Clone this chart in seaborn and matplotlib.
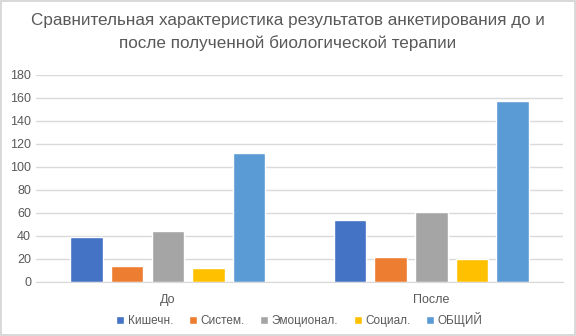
import pandas as pd
import matplotlib.pyplot as plt
import seaborn as sns

# данные анкетирования
groups = ['До', 'После']
series = ['Кишечн.', 'Систем.', 'Эмоционал.', 'Социал.', 'ОБЩИЙ']
before = [39, 14, 44, 12, 112]
after = [54, 22, 61, 20, 157]
colors = ['#4472C4', '#ED7D31', '#A5A5A5', '#FFC000', '#5B9BD5']

df = pd.DataFrame({
    'group': [groups[0]] * len(series) + [groups[1]] * len(series),
    'series': series + series,
    'value': before + after,
})

sns.set_style('white')
plt.rcParams['font.family'] = ['Liberation Sans', 'DejaVu Sans']

fig = plt.figure(figsize=(5.76, 3.36), dpi=100)
fig.patch.set_edgecolor('#D9D9D9')
fig.patch.set_linewidth(1.5)
ax = fig.add_axes([0.0625, 0.161, 0.915, 0.616])

sns.barplot(data=df, x='group', y='value', hue='series', order=groups,
            hue_order=series, palette=colors, width=0.77, gap=0.2,
            saturation=1, ax=ax, legend=True)

ax.set_ylim(0, 180)
ax.set_yticks(range(0, 181, 20))
ax.yaxis.grid(True, color='#D9D9D9', linewidth=1)
ax.set_axisbelow(True)
for s in ['top', 'right', 'left']:
    ax.spines[s].set_visible(False)
ax.spines['bottom'].set_color('#D9D9D9')
ax.tick_params(axis='both', colors='#595959', labelsize=9, length=0)
ax.tick_params(axis='x', pad=9)
ax.set_xlabel('')
ax.set_ylabel('')

fig.suptitle('Сравнительная характеристика результатов анкетирования до и\n'
             'после полученной биологической терапии',
             color='#595959', fontsize=12.3, y=0.96, linespacing=1.5)

ax.legend(loc='upper center', bbox_to_anchor=(0.5, -0.095), ncol=5,
          frameon=False, fontsize=8.5, handlelength=0.7, handleheight=0.7,
          handletextpad=0.3, columnspacing=1.3, labelcolor='#595959')

fig.savefig('out.png', dpi=100)
